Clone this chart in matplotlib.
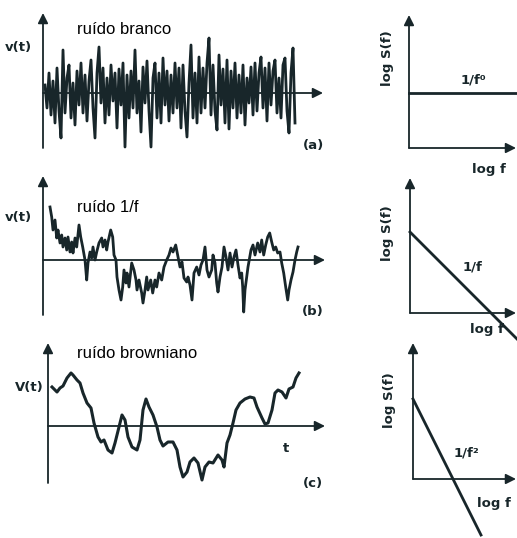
import matplotlib.pyplot as plt
import numpy as np

W, H = 517, 538
INK = "#18262a"

# white noise, one sample every 2 time units (baseline = 0)
white_v = [8, -15, 20, -22, 12, -30, 25, -18, -45, 43, -20, 15, 28, -25, 10, -32,
           22, -12, 30, -20, 18, -28, 12, 33, -15, -45, 20, 46, -10, 25, -30, 15,
           -22, 28, -8, 20, -35, 24, -12, 30, -54, 18, -25, 22, -15, 43, -20, 12,
           -39, 26, -10, 32, -18, -54, 15, 30, -25, 20, -30, 35, -12, 22, -28, 18,
           -20, 30, -15, 25, -35, 28, -18, -44, 10, 48, -25, 20, -30, 36, -20, 25,
           -15, 30, 55, -22, 28, -18, -37, 38, -12, 24, -30, 33, -36, 22, -15, 30,
           -25, 18, -20, 28, -32, 15, -10, 26, -22, 30, -18, 20, 36, -15, 25, -28,
           30, -12, 22, 33, -20, 15, -25, 28, 35, -18, -40, 20, 45, -30]

# 1/f noise
pink_t = [7, 8.7, 10, 12, 13.7, 15, 17, 18.7, 20, 22, 23.7, 25, 27, 28.7, 30, 32,
          33.7, 36, 37.7, 39.7, 42, 43.7, 45, 47, 48.7, 50, 52, 53.7, 56, 58.7, 60, 62,
          63.7, 65, 67.7, 69.7, 71, 73, 74, 76, 78, 79.7, 81, 83, 84, 86, 88.7, 91,
          93, 94, 96, 98.7, 100, 102, 103.7, 105, 107.7, 109.7, 112, 113.7, 116, 118.7,
          121, 123.7, 126, 128, 130, 132.7, 135, 137, 139, 141, 143.7, 145, 147, 149,
          151, 153.7, 156, 158, 160, 162, 164, 166, 168.7, 170, 172, 173.7, 175, 177,
          179, 181, 183, 185, 187, 189, 191, 193, 195, 197, 198.7, 199.7, 200.7, 202,
          203.7, 205, 208, 210, 212, 214.7, 217, 218.7, 220.7, 222.7, 224.7, 226.7,
          228.7, 230.7, 232.7, 234.7, 237, 238.7, 240.7, 242.7, 244.7, 246, 248, 250,
          252, 253.7, 255]
pink_v = [53, 43, 30, 40, 22, 30, 17, 25, 13, 22, 10, 23, 8, 18, 7, 22,
          13, 35, 23, 13, 0, -20, -3, 8, 2, 13, 0, 8, 17, 22, 13, 20,
          10, 18, 30, 23, 5, 0, -17, -30, -40, -27, -10, -23, -13, -27, -3, -10,
          -20, -30, -20, -33, -43, -30, -17, -30, -20, -33, -20, -27, -13, -20,
          -7, 0, 5, 12, 8, 15, 3, -7, -2, -18, -22, -17, -25, -40,
          -13, -7, -15, -5, 0, 13, -10, -17, -10, 5, -3, -23, -32, -17,
          -7, 13, 3, -10, 7, -7, 3, 10, -5, -18, -13, -27, -52, -30,
          -17, -7, 10, 15, 5, 17, 8, 20, 5, 15, 23, 27,
          18, 10, 13, 7, 8, -3, -13, -27, -40, -30, -20, -12,
          0, 8, 13]

# brownian noise
brown_t = [4, 9, 12, 15, 19, 23, 25, 29, 32, 35, 39, 43, 46, 50, 53, 56, 60, 64, 67,
           71, 74, 77, 80, 84, 89, 92, 95, 98, 101, 105, 109, 112, 115, 120, 125, 129,
           132, 135, 139, 142, 146, 150, 154, 157, 161, 165, 170, 174, 176, 179, 182,
           185, 188, 192, 197, 202, 206, 209, 214, 217, 220, 224, 227, 230, 234, 238,
           241, 245, 248, 251]
brown_v = [39, 34, 38, 40, 48, 53, 51, 46, 43, 33, 23, 18, 3, -11, -16, -14, -24, -27,
           -17, -1, 11, 6, -11, -21, -24, -14, 16, 27, 19, 11, -1, -14, -20, -16, -16,
           -24, -41, -51, -46, -36, -32, -37, -54, -41, -36, -37, -29, -34, -41, -17,
           -9, 3, 16, 23, 27, 29, 28, 19, 8, 2, 3, 16, 33, 36, 34, 28, 37, 39, 48, 53]

# power spectra, log S vs log f
spec_labels = ["1/f\u2070", "1/f", "1/f\u00b2"]
spec_logf = [[0.0, 2.16], [0.0, 2.14], [0.0, 1.36]]
spec_logS = [[1.1, 1.1], [1.62, -0.52], [1.6, -1.12]]

fig = plt.figure(figsize=(W / 100, H / 100), dpi=100)


def panel(ox, oy, left, top, right, bottom, scale=1.0):
    # axes placed in pixel coordinates, data origin at (ox, oy)
    ax = fig.add_axes([left / W, 1 - bottom / H, (right - left) / W, (bottom - top) / H])
    ax.set_xlim((left - ox) / scale, (right - ox) / scale)
    ax.set_ylim((oy - bottom) / scale, (oy - top) / scale)
    ax.axis("off")
    return ax


def arrow(ax, start, end):
    ax.annotate("", xy=end, xytext=start,
                arrowprops=dict(arrowstyle="-|>", color=INK, lw=1.3,
                                mutation_scale=15, shrinkA=0, shrinkB=0))


def ftext(x, y, s, **kw):
    fig.text(x / W, 1 - y / H, s, **kw)


lab = dict(fontsize=9.5, fontweight="bold", color=INK, ha="center", va="center")
name = dict(fontsize=12, family="Liberation Sans", color="black", va="center")

# (a) white noise
ax = panel(43, 93, 0, 0, 340, 160)
white_t = np.arange(len(white_v)) * 2 + 2
ax.plot(white_t, white_v, color=INK, lw=2.0)
arrow(ax, (0, -55), (0, 80))
arrow(ax, (0, 0), (280, 0))
ftext(18, 48, "v(t)", **lab)
ftext(77, 30, "ruído branco", **name)
ftext(313, 146, "(a)", **lab)

# (b) 1/f noise
ax = panel(43, 260, 0, 165, 340, 325)
ax.plot(pink_t, pink_v, color=INK, lw=2.0)
arrow(ax, (0, -55), (0, 84))
arrow(ax, (0, 0), (282, 0))
ftext(18, 217, "v(t)", **lab)
ftext(77, 207, "ruído 1/f", **name)
ftext(313, 312, "(b)", **lab)

# (c) brownian noise
ax = panel(48, 426, 0, 335, 340, 495)
ax.plot(brown_t, brown_v, color=INK, lw=2.2)
arrow(ax, (0, -57), (0, 83))
arrow(ax, (0, 0), (277, 0))
ftext(29, 388, "V(t)", **lab)
ftext(77, 353, "ruído browniano", **name)
ftext(286, 449, "t", **lab)
ftext(313, 483, "(c)", **lab)

# spectra
origins = [(409, 148), (410, 313), (413, 479)]
tops = [15, 178, 343]
label_pos = [(473, 80), (473, 267), (466, 453)]
ylab_pos = [(388, 58), (388, 233), (390, 400)]
xlab_pos = [(489, 170), (487, 330), (494, 503)]
for i in range(3):
    ox, oy = origins[i]
    ax = panel(ox, oy, 375, oy - 170, W, min(oy + 60, H), scale=50)
    ax.plot(spec_logf[i], spec_logS[i], color=INK, lw=2.0)
    arrow(ax, (0, 0), (0, (oy - tops[i]) / 50))
    arrow(ax, (0, 0), ((W - 1 - ox) / 50, 0))
    ftext(*label_pos[i], spec_labels[i], **lab)
    ftext(*ylab_pos[i], "log S(f)", rotation=90, **lab)
    ftext(*xlab_pos[i], "log f", **lab)

fig.savefig("out.png", dpi=100, facecolor="white")
